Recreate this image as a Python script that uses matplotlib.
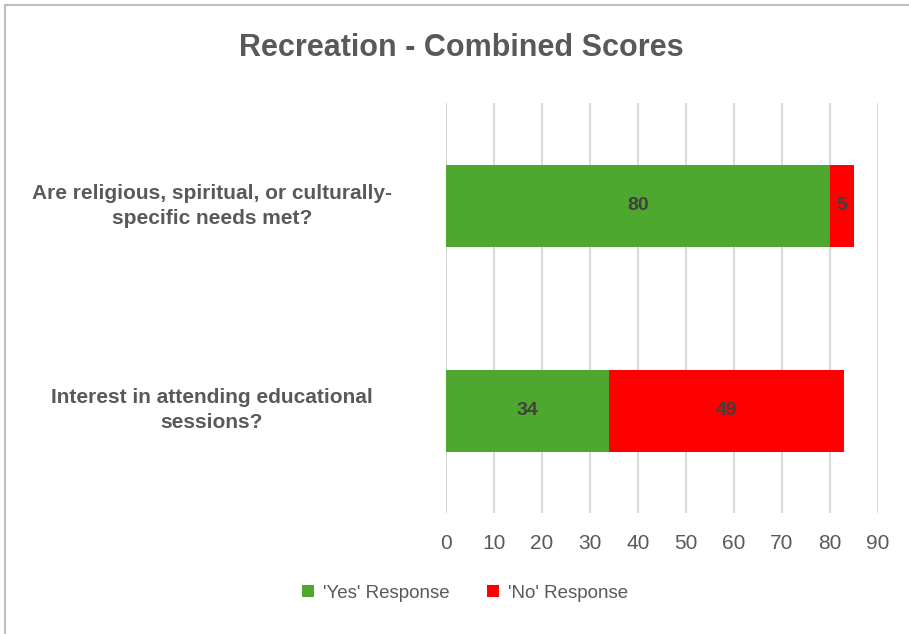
import matplotlib.pyplot as plt
from matplotlib.lines import Line2D

categories = ["Are religious, spiritual, or culturally-\nspecific needs met?",
              "Interest in attending educational\nsessions?"]
yes_vals = [80, 34]
no_vals = [5, 49]
series_names = ["'Yes' Response", "'No' Response"]
xticks = [0, 10, 20, 30, 40, 50, 60, 70, 80, 90]

green = "#4ea72e"
red = "#ff0000"
fam = ["Liberation Sans", "DejaVu Sans"]

fig = plt.figure(figsize=(9.09, 6.34), dpi=100)
ax = fig.add_axes([446 / 909, 1 - 513 / 634, (878 - 446) / 909, 410 / 634])

ypos = [0, 1]
ax.barh(ypos, yes_vals, height=0.4, color=green, label=series_names[0], zorder=2)
ax.barh(ypos, no_vals, left=yes_vals, height=0.4, color=red, label=series_names[1], zorder=2)

for i in range(len(ypos)):
    ax.text(yes_vals[i] / 2, ypos[i], str(yes_vals[i]), ha="center", va="center",
            fontsize=14, fontweight="bold", color="#404040", family=fam, zorder=3)
    ax.text(yes_vals[i] + no_vals[i] / 2, ypos[i], str(no_vals[i]), ha="center", va="center",
            fontsize=14, fontweight="bold", color="#404040", family=fam, zorder=3)

ax.set_ylim(1.5, -0.5)
ax.set_xlim(0, 90)
ax.set_xticks(xticks)
ax.set_xticklabels([str(t) for t in xticks], family=fam, fontsize=15, color="#595959")
ax.set_yticks([])
ax.tick_params(axis="x", length=0, pad=15)
ax.grid(axis="x", color="#d9d9d9", linewidth=1.5, zorder=0)
for s in ax.spines.values():
    s.set_visible(False)

for i, lab in enumerate(categories):
    fig.text(212 / 909, 1 - (206 + 204 * i) / 634, lab, ha="center", va="center",
             multialignment="center", fontsize=15, fontweight="bold", color="#595959",
             family=fam, linespacing=1.4)

fig.text(461 / 909, 1 - 48 / 634, "Recreation - Combined Scores", ha="center", va="center",
         fontsize=22, fontweight="bold", color="#595959", family=fam)

handles, labels = ax.get_legend_handles_labels()
leg = fig.legend(handles, labels, loc="center", bbox_to_anchor=(465 / 909, 1 - 593 / 634),
                 ncol=2, frameon=False, handlelength=0.65, handleheight=0.65,
                 handletextpad=0.45, columnspacing=2.0,
                 prop={"family": fam, "size": 13.5})
for t in leg.get_texts():
    t.set_color("#595959")

# outer chart border (only top and left visible in the crop)
fig.add_artist(Line2D([5 / 909, 5 / 909], [0, 1 - 5 / 634], color="#bfbfbf", linewidth=1.5))
fig.add_artist(Line2D([5 / 909, 1], [1 - 5 / 634, 1 - 5 / 634], color="#bfbfbf", linewidth=1.5))

fig.savefig("out.png", dpi=100)
